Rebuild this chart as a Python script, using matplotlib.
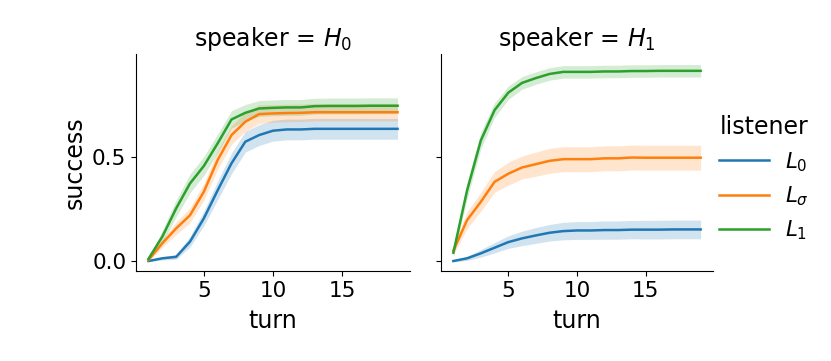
import numpy as np
import matplotlib
matplotlib.use("Agg")
import matplotlib.pyplot as plt

# turns 1..19
turns = np.arange(1, 20)

# speaker = H0 : mean success per listener
h0_L0 = [0.0, 0.013, 0.02, 0.093, 0.205, 0.34, 0.47, 0.574, 0.606, 0.627,
         0.633, 0.633, 0.636, 0.636, 0.636, 0.636, 0.636, 0.636, 0.636]
h0_Ls = [0.005, 0.085, 0.157, 0.22, 0.333, 0.486, 0.606, 0.67, 0.707, 0.71,
         0.712, 0.713, 0.716, 0.716, 0.716, 0.716, 0.716, 0.716, 0.716]
h0_L1 = [0.01, 0.117, 0.253, 0.373, 0.457, 0.566, 0.681, 0.713, 0.734, 0.737,
         0.739, 0.739, 0.745, 0.746, 0.746, 0.746, 0.747, 0.747, 0.747]
# half width of the confidence band
h0_L0_ci = [0.004, 0.008, 0.012, 0.025, 0.035, 0.045, 0.05, 0.05, 0.05, 0.05,
            0.05, 0.05, 0.05, 0.05, 0.05, 0.05, 0.05, 0.05, 0.05]
h0_Ls_ci = [0.006, 0.02, 0.03, 0.035, 0.04, 0.045, 0.045, 0.045, 0.045, 0.042,
            0.042, 0.042, 0.042, 0.042, 0.042, 0.042, 0.042, 0.042, 0.042]
h0_L1_ci = [0.008, 0.03, 0.04, 0.045, 0.045, 0.045, 0.042, 0.04, 0.038, 0.038,
            0.038, 0.038, 0.038, 0.038, 0.038, 0.038, 0.038, 0.038, 0.038]

# speaker = H1
h1_L0 = [0.0, 0.013, 0.037, 0.064, 0.091, 0.109, 0.123, 0.136, 0.144, 0.147,
         0.147, 0.149, 0.149, 0.151, 0.151, 0.151, 0.152, 0.152, 0.152]
h1_Ls = [0.05, 0.197, 0.285, 0.381, 0.42, 0.45, 0.466, 0.482, 0.49, 0.49,
         0.49, 0.494, 0.494, 0.498, 0.497, 0.497, 0.497, 0.497, 0.497]
h1_L1 = [0.04, 0.34, 0.58, 0.726, 0.81, 0.857, 0.88, 0.9, 0.91, 0.91,
         0.91, 0.912, 0.912, 0.914, 0.914, 0.915, 0.915, 0.915, 0.915]
h1_L0_ci = [0.004, 0.01, 0.018, 0.025, 0.03, 0.035, 0.038, 0.04, 0.042, 0.043,
            0.043, 0.044, 0.044, 0.044, 0.045, 0.045, 0.045, 0.045, 0.045]
h1_Ls_ci = [0.02, 0.04, 0.045, 0.05, 0.055, 0.055, 0.058, 0.06, 0.06, 0.06,
            0.06, 0.06, 0.06, 0.06, 0.06, 0.06, 0.06, 0.06, 0.06]
h1_L1_ci = [0.02, 0.04, 0.04, 0.035, 0.032, 0.03, 0.03, 0.03, 0.03, 0.03,
            0.03, 0.03, 0.03, 0.03, 0.03, 0.03, 0.03, 0.03, 0.03]

listeners = [r"$L_0$", r"$L_\sigma$", r"$L_1$"]
speakers = [r"$H_0$", r"$H_1$"]
colors = ["#1f77b4", "#ff7f0e", "#2ca02c"]

data = {
    0: [(h0_L0, h0_L0_ci), (h0_Ls, h0_Ls_ci), (h0_L1, h0_L1_ci)],
    1: [(h1_L0, h1_L0_ci), (h1_Ls, h1_Ls_ci), (h1_L1, h1_L1_ci)],
}

tick_fs = 15.5
label_fs = 17

plt.rcParams['xtick.labelsize'] = tick_fs
plt.rcParams['ytick.labelsize'] = tick_fs
plt.rcParams['axes.labelsize'] = label_fs
plt.rcParams['axes.titlesize'] = label_fs

W, H = 831, 361
fig = plt.figure(figsize=(W / 100, H / 100), dpi=100)
ax0 = fig.add_axes([136 / W, (H - 271) / H, 274 / W, 217 / H])
ax1 = fig.add_axes([441 / W, (H - 271) / H, 272 / W, 217 / H], sharey=ax0)
axes = [ax0, ax1]

handles = []
for i, ax in enumerate(axes):
    for j, (m, ci) in enumerate(data[i]):
        m = np.array(m)
        ci = np.array(ci)
        ax.fill_between(turns, m - ci, m + ci, color=colors[j], alpha=0.2, linewidth=0)
        ln, = ax.plot(turns, m, color=colors[j], linewidth=1.8, label=listeners[j])
        if i == 0:
            handles.append(ln)
    ax.set_title("speaker = " + speakers[i])
    ax.set_xlabel("turn", labelpad=6)
    ax.set_xticks([5, 10, 15])
    ax.spines['top'].set_visible(False)
    ax.spines['right'].set_visible(False)
    ax.margins(x=0.05)

ax0.set_ylabel("success")
ax0.set_yticks([0.0, 0.5])
ax0.set_ylim(-0.048, 0.996)
plt.setp(ax1.get_yticklabels(), visible=False)

fig.legend(handles, listeners, title="listener", frameon=False,
           loc="center left", bbox_to_anchor=(700 / W, 0.505),
           fontsize=tick_fs, title_fontsize=label_fs,
           handlelength=2.3, handletextpad=0.75)

fig.savefig("out.png", dpi=100)
